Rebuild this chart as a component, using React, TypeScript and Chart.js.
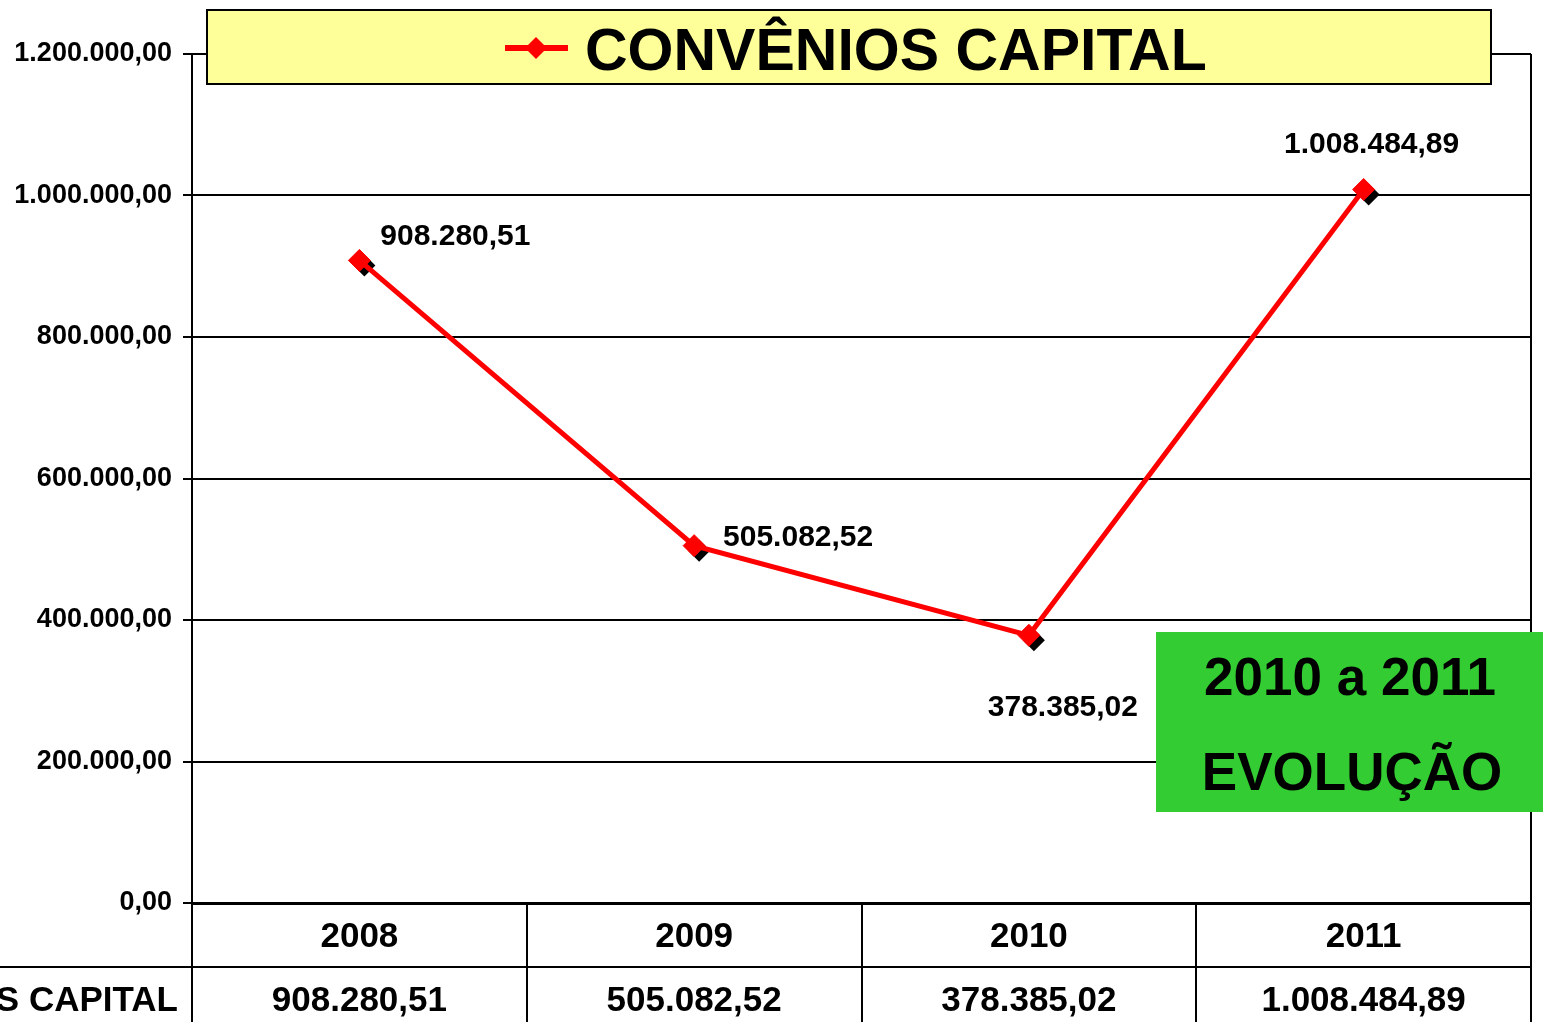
import React, { useEffect, useRef } from 'react';
import { Chart, registerables } from 'chart.js';

Chart.register(...registerables);

const years = ['2008', '2009', '2010', '2011'];
const values = [908280.51, 505082.52, 378385.02, 1008484.89];
const seriesName = 'CONVÊNIOS CAPITAL';
const yTickValues = [0, 200000, 400000, 600000, 800000, 1000000, 1200000];
const highlightLines = ['2010 a 2011', 'EVOLUÇÃO'];
// label placement offsets (dx, dy baseline) relative to each point
const labelOffsets = [
  [96, -15],
  [104, 0],
  [34, 81],
  [8, -36],
];

const FONT = "'Liberation Sans', Arial, sans-serif";
const W = 1543;
const H = 1022;

function fmt(v: number): string {
  const fixed = Number(v).toFixed(2);
  const [i, d] = fixed.split('.');
  return i.replace(/\B(?=(\d{3})+(?!\d))/g, '.') + ',' + d;
}

function diamond(ctx: CanvasRenderingContext2D, x: number, y: number, r: number) {
  ctx.beginPath();
  ctx.moveTo(x, y - r);
  ctx.lineTo(x + r, y);
  ctx.lineTo(x, y + r);
  ctx.lineTo(x - r, y);
  ctx.closePath();
  ctx.fill();
}

const shadowPlugin = {
  id: 'pointShadow',
  beforeDatasetsDraw(chart: any) {
    const ctx = chart.ctx as CanvasRenderingContext2D;
    const meta = chart.getDatasetMeta(0);
    ctx.save();
    ctx.fillStyle = '#000';
    meta.data.forEach((pt: any) => {
      diamond(ctx, pt.x + 5, pt.y + 5, 11);
    });
    ctx.restore();
  },
};

const decorPlugin = {
  id: 'decor',
  afterDraw(chart: any) {
    const ctx = chart.ctx as CanvasRenderingContext2D;
    const area = chart.chartArea;
    const xs = chart.scales.x;
    const meta = chart.getDatasetMeta(0);
    ctx.save();

    // right border and extended left axis
    ctx.strokeStyle = '#000';
    ctx.lineWidth = 2;
    ctx.beginPath();
    ctx.moveTo(area.right, area.top);
    ctx.lineTo(area.right, H);
    ctx.moveTo(area.left, area.bottom);
    ctx.lineTo(area.left, H);
    ctx.stroke();

    // data table
    const step = xs.getPixelForValue(1) - xs.getPixelForValue(0);
    const rowH = 64;
    ctx.beginPath();
    ctx.moveTo(0, area.bottom + rowH);
    ctx.lineTo(area.right, area.bottom + rowH);
    for (let i = 0; i <= years.length; i++) {
      const bx = Math.round(xs.getPixelForValue(0) - step / 2 + i * step);
      ctx.moveTo(bx, area.bottom);
      ctx.lineTo(bx, H);
    }
    ctx.stroke();

    ctx.fillStyle = '#000';
    ctx.font = `bold 35px ${FONT}`;
    ctx.textAlign = 'center';
    ctx.textBaseline = 'alphabetic';
    years.forEach((y, i) => {
      const cx = xs.getPixelForValue(i);
      ctx.fillText(y, cx, area.bottom + 44);
      ctx.fillText(fmt(values[i]), cx, area.bottom + rowH + 44);
    });
    ctx.textAlign = 'right';
    ctx.fillText(seriesName, 178, area.bottom + rowH + 44);

    // data labels
    ctx.font = `bold 30px ${FONT}`;
    ctx.textAlign = 'center';
    meta.data.forEach((pt: any, i: number) => {
      const [dx, dy] = labelOffsets[i];
      ctx.fillText(fmt(values[i]), pt.x + dx, pt.y + dy);
    });

    // title box with legend
    ctx.fillStyle = '#FFFF99';
    ctx.fillRect(207, 10, 1284, 74);
    ctx.strokeStyle = '#000';
    ctx.lineWidth = 2;
    ctx.strokeRect(207, 10, 1284, 74);
    ctx.strokeStyle = '#FF0000';
    ctx.lineWidth = 6;
    ctx.beginPath();
    ctx.moveTo(505, 48);
    ctx.lineTo(568, 48);
    ctx.stroke();
    ctx.fillStyle = '#FF0000';
    diamond(ctx, 536, 48, 11);
    ctx.fillStyle = '#000';
    ctx.font = `bold 59px ${FONT}`;
    ctx.textAlign = 'left';
    ctx.fillText(seriesName, 585, 70);

    // highlight box
    ctx.fillStyle = '#33CC33';
    ctx.fillRect(1156, 632, W - 1156, 180);
    ctx.fillStyle = '#000';
    ctx.font = `bold 53px ${FONT}`;
    ctx.textAlign = 'center';
    ctx.fillText(highlightLines[0], 1350, 695);
    ctx.fillText(highlightLines[1], 1352, 790);

    ctx.restore();
  },
};

export default function App() {
  const ref = useRef<HTMLCanvasElement | null>(null);

  useEffect(() => {
    if (!ref.current) return;
    const chart = new Chart(ref.current, {
      type: 'line',
      data: {
        labels: years,
        datasets: [
          {
            label: seriesName,
            data: values,
            borderColor: '#FF0000',
            borderWidth: 5,
            pointStyle: 'rectRot',
            pointRadius: 11,
            pointBackgroundColor: '#FF0000',
            pointBorderColor: '#FF0000',
            pointBorderWidth: 1,
            tension: 0,
            clip: false as any,
          },
        ],
      },
      options: {
        responsive: false,
        animation: false,
        devicePixelRatio: 1,
        layout: { padding: { top: 54, right: 8, left: 0, bottom: 0 } },
        plugins: {
          legend: { display: false },
          title: { display: false },
          tooltip: { enabled: false },
        },
        scales: {
          x: {
            type: 'category',
            offset: true,
            grid: { display: false },
            ticks: { display: false },
            border: { display: true, color: '#000', width: 3 },
            afterFit: (s: any) => {
              s.height = 119;
            },
          },
          y: {
            min: 0,
            max: 1200000,
            afterBuildTicks: (s: any) => {
              s.ticks = yTickValues.map((v) => ({ value: v }));
            },
            ticks: {
              callback: (v: any) => fmt(Number(v)),
              color: '#000',
              padding: 11,
              font: { family: FONT, size: 27, weight: 'bold' },
            },
            grid: { color: '#000', lineWidth: 2, tickLength: 9, drawTicks: true },
            border: { display: true, color: '#000', width: 2 },
            afterFit: (s: any) => {
              s.width = 192;
            },
          },
        },
      } as any,
      plugins: [shadowPlugin, decorPlugin],
    });
    return () => chart.destroy();
  }, []);

  return (
    <div style={{ position: 'fixed', left: 0, top: 0, width: W, height: H, background: '#fff' }}>
      <canvas ref={ref} width={W} height={H} style={{ width: W, height: H, display: 'block' }} />
    </div>
  );
}
